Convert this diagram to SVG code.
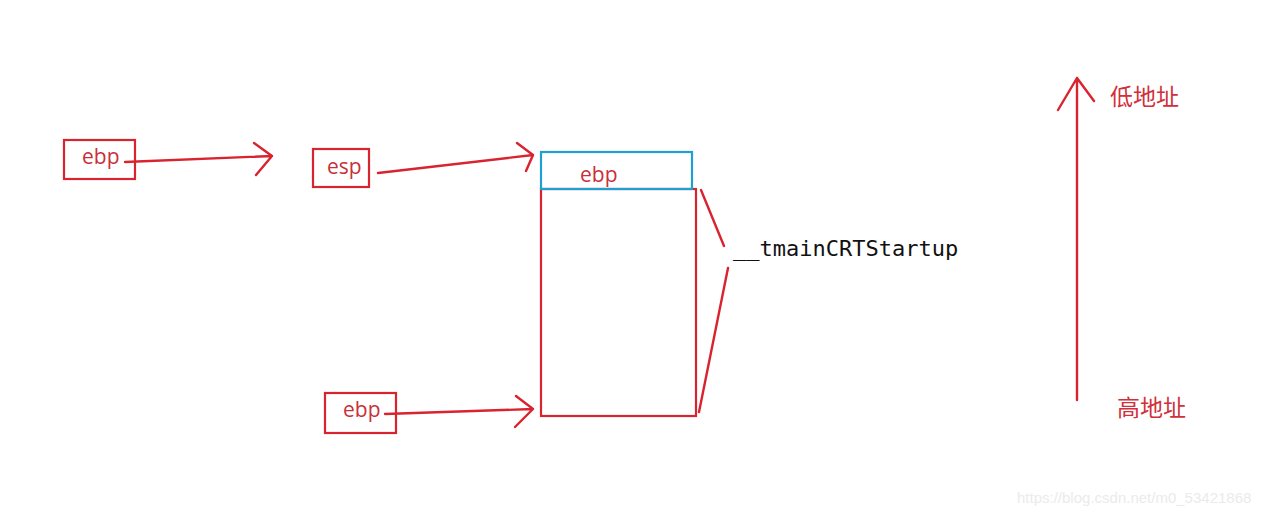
<svg xmlns="http://www.w3.org/2000/svg" width="1275" height="515" viewBox="0 0 1275 515">
<style>
.box{fill:none;stroke:#d9232e;stroke-width:2.2}
.blue{fill:none;stroke:#1ea0d0;stroke-width:2.2}
.lbl{font-family:"Open Sans","Liberation Sans",sans-serif;font-size:21px;fill:#c8303a}
.cjk{font-family:"Noto Sans CJK SC","Noto Sans CJK JP",sans-serif;font-size:23px;fill:#d0303a}
.con{fill:none;stroke:#d9232e;stroke-width:2.4;stroke-linecap:round;stroke-linejoin:round}
.mono{font-family:"DejaVu Sans Mono","Liberation Mono",monospace;font-size:22px;fill:#111}
</style>
<rect width="1275" height="515" fill="#ffffff"/>
<g id="node-ebp-top">
<rect class="box" x="64" y="140" width="71" height="39"/>
<text class="lbl" x="82" y="164">ebp</text>
</g>
<g id="node-esp">
<rect class="box" x="313" y="149" width="56" height="38"/>
<text class="lbl" x="327" y="174">esp</text>
</g>
<g id="node-ebp-bottom">
<rect class="box" x="325" y="393" width="71" height="40"/>
<text class="lbl" x="343" y="417">ebp</text>
</g>
<g id="node-stack">
<rect class="box" x="541" y="189" width="155" height="227"/>
<rect class="blue" x="541" y="152" width="151" height="37"/>
<text class="lbl" x="580" y="182">ebp</text>
</g>
<g id="node-frame-label">
<text class="mono" x="733" y="256">__tmainCRTStartup</text>
</g>
<g id="node-addr">
<text class="cjk" x="1110" y="105">低地址</text>
<text class="cjk" x="1117" y="416">高地址</text>
</g>
<g id="connectors">
<path class="con" d="M125 162 L272 156 M254 143 L272 156 L256 175"/>
<path class="con" d="M378 173 L533 155 M517 143 L533 155 L526 171"/>
<path class="con" d="M385 414 L533 409 M516 396 L533 409 L515 427"/>
<path class="con" d="M701 190 L724 246 M728 268 L699 412"/>
<path class="con" d="M1077 400 L1077 78 M1058 110 L1077 78 L1094 101"/>
</g>
<text x="1017" y="503" font-family="Liberation Sans,sans-serif" font-size="15" fill="#ebebeb">https://blog.csdn.net/m0_53421868</text>
</svg>
